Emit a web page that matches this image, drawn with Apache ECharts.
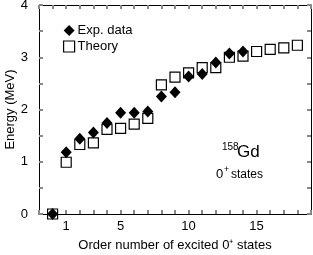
<!DOCTYPE html>
<html><head><meta charset="utf-8">
<script src="https://cdn.jsdelivr.net/npm/echarts@6/dist/echarts.min.js"></script>
<style>html,body{margin:0;padding:0;background:#fff}#c{width:313px;height:255px}</style>
</head><body><div id="c"></div>
<script>
const expOrder = [0,1,2,3,4,5,6,7,8,9,10,11,12,13,14];
const expEnergy = [0,1.18,1.44,1.56,1.74,1.94,1.94,1.96,2.25,2.33,2.63,2.68,2.90,3.07,3.11];
const thOrder = [0,1,2,3,4,5,6,7,8,9,10,11,12,13,14,15,16,17,18];
const thEnergy = [0,0.99,1.33,1.36,1.62,1.64,1.72,1.83,2.47,2.62,2.70,2.80,2.80,3.00,3.02,3.11,3.15,3.18,3.23];
const xLabels = [1,5,10,15];
const yLabels = [0,1,2,3,4];

const F = 'Liberation Sans, Arial, sans-serif';
const chart = echarts.init(document.getElementById('c'));
function axisCommon(extra){
  return Object.assign({
    axisLine:{show:true,onZero:false,lineStyle:{color:'#000',width:1}},
    axisTick:{show:true,inside:true,length:4,lineStyle:{color:'#888',width:2}},
    splitLine:{show:false}
  },extra);
}
function fmt(list){ return v => list.indexOf(v)>=0 ? String(v) : ''; }
chart.setOption({
  animation:false,
  textStyle:{fontFamily:F},
  grid:{left:39,right:2,top:5,bottom:41,containLabel:false,outerBoundsMode:'none'},
  legend:{
    orient:'vertical', left:58, top:19, itemGap:3, itemWidth:11, itemHeight:11,
    textStyle:{fontFamily:F,fontSize:13,color:'#000',padding:[0,0,0,-2]},
    data:[{name:'Exp. data',icon:'diamond',itemStyle:{color:'#000',opacity:1}},
          {name:'Theory',icon:'rect',itemStyle:{color:'#fff',borderColor:'#000',borderWidth:1.2,opacity:1}}]
  },
  xAxis:[
    axisCommon({type:'value',min:-1,max:19,interval:1,position:'bottom',
      name:'Order number of excited 0⁺ states',nameLocation:'middle',nameGap:25,nameMoveOverlap:false,
      nameTextStyle:{fontFamily:F,fontSize:13,color:'#000'},
      axisLabel:{color:'#000',fontSize:13,fontFamily:F,margin:6,hideOverlap:false,
        formatter:fmt(xLabels)}}),
    axisCommon({type:'value',min:-1,max:19,interval:1,position:'top',
      axisLabel:{show:false}})
  ],
  yAxis:[
    axisCommon({type:'value',min:0,max:4,interval:0.5,position:'left',
      name:'Energy (MeV)',nameLocation:'middle',nameGap:22,nameMoveOverlap:false,
      nameTextStyle:{fontFamily:F,fontSize:13,color:'#000'},
      axisLabel:{color:'#000',fontSize:13,fontFamily:F,margin:11,hideOverlap:false,
        formatter:fmt(yLabels)}}),
    axisCommon({type:'value',min:0,max:4,interval:0.5,position:'right',
      axisLabel:{show:false}})
  ],
  series:[
    {name:'Exp. data',type:'scatter',symbol:'diamond',symbolSize:[11,12],
      itemStyle:{color:'#000',opacity:1},data:expOrder.map((x,i)=>[x,expEnergy[i]])},
    {name:'Theory',type:'scatter',symbol:'rect',symbolSize:10,
      itemStyle:{color:'rgba(255,255,255,0)',borderColor:'#000',borderWidth:1.2,opacity:1},
      data:thOrder.map((x,i)=>[x,thEnergy[i]])}
  ],
  graphic:[
    {type:'text',left:222,top:142,style:{text:'158',fontFamily:F,fontSize:10,fill:'#000'}},
    {type:'text',left:237,top:144,style:{text:'Gd',fontFamily:F,fontSize:17,fill:'#000'}},
    {type:'text',left:216,top:168,style:{text:'0',fontFamily:F,fontSize:13,fill:'#000'}},
    {type:'text',left:224,top:165,style:{text:'+',fontFamily:F,fontSize:9,fill:'#000'}},
    {type:'text',left:231,top:169,style:{text:'states',fontFamily:F,fontSize:12,fill:'#000'}}
  ]
});
</script></body></html>
